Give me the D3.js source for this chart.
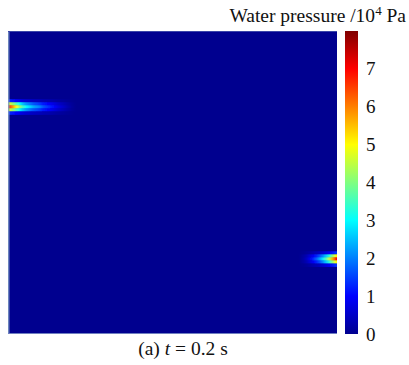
<!DOCTYPE html>
<head>
<meta charset="utf-8">
<script src="https://d3js.org/d3.v7.min.js"></script>
<style>
    body { margin: 0; background: #fff; }
    text { font-family: "Liberation Serif", "Times New Roman", serif; fill: #111; }
</style>
</head>
<body>
<div id="container"></div>
<script>
    // colour scale (jet) and colourbar ticks, in 10^4 Pa
    var pMax = 8;
    var jetStops = [0, 1, 3, 5, 7, 8];
    var jetColors = ['#00008f', '#0000ff', '#00ffff', '#ffff00', '#ff0000', '#800000'];
    var tickValues = [0, 1, 2, 3, 4, 5, 6, 7];

    // model extent (m) and the two leaking joints
    var domainX = [0, 10], domainY = [0, 10];
    var step = 0.1;                       // sample spacing along the jet
    // pressure read along the jet, starting at the wall
    var leftJet = [6.5, 5.8, 5.0, 4.2, 3.5, 3.0, 2.7, 2.4, 2.2, 2.0, 1.7, 1.5, 1.3, 1.1, 0.9, 0.7, 0.55, 0.4, 0.25, 0.1];
    var rightJet = [6.9, 5.7, 4.6, 3.6, 2.8, 2.2, 1.7, 1.2, 0.8, 0.45, 0.2];
    var leftJetY = 2.5, rightJetY = 7.52;
    // share of the centre value found on neighbouring rows
    var crossOffsets = [-0.2, -0.1, 0, 0.1, 0.2];
    var crossShare = [0.2, 0.72, 1, 0.72, 0.2];
    var background = 0;

    var svg = d3.select('#container').append('svg').attr('width', 409).attr('height', 365);
    var plot = {left: 8, right: 337, top: 31, bottom: 334};

    var x = d3.scaleLinear().domain(domainX).range([plot.left, plot.right]);
    var y = d3.scaleLinear().domain(domainY).range([plot.top, plot.bottom]);
    var color = d3.scaleLinear().domain(jetStops).range(jetColors).clamp(true);

    var defs = svg.append('defs');
    defs.append('clipPath').attr('id', 'plotClip').append('rect')
        .attr('x', plot.left).attr('y', plot.top)
        .attr('width', plot.right - plot.left).attr('height', plot.bottom - plot.top);
    defs.append('filter').attr('id', 'soft').attr('x', '-20%').attr('y', '-50%').attr('width', '140%').attr('height', '200%')
        .append('feGaussianBlur').attr('stdDeviation', '1.1 0.6');

    // background field
    svg.append('rect')
        .attr('x', x(domainX[0])).attr('y', y(domainY[0]))
        .attr('width', x(domainX[1]) - x(domainX[0]))
        .attr('height', y(domainY[1]) - y(domainY[0]))
        .attr('fill', color(background));

    // cells for each jet; the wall cell runs a little past the wall so the blur keeps its colour
    function jetCells(values, y0, side) {
        var cells = [];
        values.forEach(function(v, i) {
            crossOffsets.forEach(function(o, j) {
                var w = i === 0 ? 3 * step : step;
                var x0 = side === 'left' ? domainX[0] + i * step - (w - step) : domainX[1] - (i + 1) * step;
                cells.push({x0: x0, w: w, y0: y0 + o - step / 2, v: v * crossShare[j]});
            });
        });
        return cells;
    }
    var cells = jetCells(leftJet, leftJetY, 'left').concat(jetCells(rightJet, rightJetY, 'right'));

    var field = svg.append('g').attr('clip-path', 'url(#plotClip)').append('g').attr('filter', 'url(#soft)');
    field.selectAll('rect').data(cells).enter().append('rect')
        .attr('x', function(d) { return x(d.x0); })
        .attr('y', function(d) { return y(d.y0); })
        .attr('width', function(d) { return x(d.w) - x(0) + 0.5; })
        .attr('height', y(step) - y(0) + 0.5)
        .attr('fill', function(d) { return color(d.v); });

    // thin light frame edge seen on the left and bottom
    svg.append('rect').attr('x', plot.left).attr('y', plot.top).attr('width', 1.5).attr('height', plot.bottom - plot.top)
        .attr('fill', '#7f9cc6').attr('opacity', 0.85);
    svg.append('line').attr('x1', plot.left).attr('x2', plot.right).attr('y1', plot.bottom - 0.5).attr('y2', plot.bottom - 0.5)
        .attr('stroke', '#6f7fc0').attr('stroke-width', 1);
    svg.append('line').attr('x1', plot.left).attr('x2', plot.right).attr('y1', plot.top + 0.5).attr('y2', plot.top + 0.5)
        .attr('stroke', '#3a45a8').attr('stroke-width', 1);

    // colourbar
    var cb = {left: 345, width: 13};
    var c = d3.scaleLinear().domain([0, pMax]).range([plot.bottom, plot.top]);
    var grad = defs.append('linearGradient').attr('id', 'jet').attr('x1', 0).attr('y1', 1).attr('x2', 0).attr('y2', 0);
    grad.selectAll('stop').data(jetStops).enter().append('stop')
        .attr('offset', function(d) { return d / pMax; })
        .attr('stop-color', function(d) { return color(d); });
    svg.append('rect').attr('x', cb.left).attr('y', c(pMax)).attr('width', cb.width).attr('height', c(0) - c(pMax))
        .attr('fill', 'url(#jet)');

    var axis = d3.axisRight(c).tickValues(tickValues).tickSize(0).tickPadding(8);
    var ag = svg.append('g').attr('transform', 'translate(' + (cb.left + cb.width) + ',0)').call(axis);
    ag.select('.domain').remove();
    ag.selectAll('text').attr('font-size', 19).attr('font-family', '"Liberation Serif", serif').attr('fill', '#111');

    // title of colourbar
    var title = svg.append('text').attr('x', 406).attr('y', 22).attr('text-anchor', 'end').attr('font-size', 19.5);
    title.append('tspan').text('Water pressure /10');
    title.append('tspan').text('4').attr('font-size', 13).attr('dy', -7);
    title.append('tspan').text(' Pa').attr('dy', 7);

    // caption
    var cap = svg.append('text').attr('x', 183).attr('y', 355).attr('text-anchor', 'middle').attr('font-size', 19.5);
    cap.append('tspan').text('(a) ');
    cap.append('tspan').text('t').attr('font-style', 'italic');
    cap.append('tspan').text(' = 0.2 s');
</script>
</body>
